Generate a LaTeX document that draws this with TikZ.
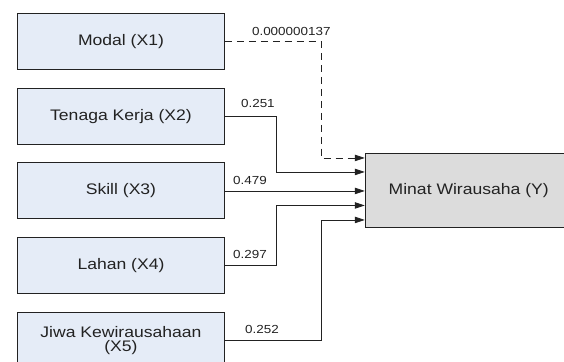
\documentclass[tikz,border=0pt]{standalone}
\usepackage{fontspec}
\setmainfont{Liberation Sans}[FakeStretch=1.15]
\usetikzlibrary{arrows.meta,positioning,calc}

\definecolor{varfill}{RGB}{229,236,247}
\definecolor{depfill}{RGB}{220,220,220}
\definecolor{ink}{RGB}{34,34,34}

\begin{document}
\begin{tikzpicture}[
    var/.style = {draw=ink, fill=varfill, rectangle, line width=0.7pt, minimum height = 1.482 cm, minimum width = 5.477 cm, inner sep=0pt, text=ink, font=\fontsize{11.5}{10.5}\selectfont},
    dep/.style = {draw=ink, fill=depfill, rectangle, line width=0.7pt, minimum height = 1.958 cm, minimum width = 5.477 cm, inner sep=0pt, text=ink, font=\fontsize{11.5}{10.5}\selectfont},
    conn/.style = {draw=ink, line width=0.6pt, -{Triangle[length=7.5pt,width=4.8pt]}},
    coef/.style = {text=ink, inner sep=0pt, font=\fontsize{8.8}{10}\selectfont}
  ]

      \useasboundingbox (0,0) rectangle (14.923,-9.578);

      \coordinate (x1c) at (0.45,-0.344);
      \node[var, anchor = north west] at (x1c) (x1) {Modal (X1)};
      \node[var, below = 0.471 cm of x1] (x2) {Tenaga Kerja (X2)};
      \node[var, below = 0.471 cm of x2] (x3) {Skill (X3)};
      \node[var, below = 0.471 cm of x3] (x4) {Lahan (X4)};
      \node[var, below = 0.471 cm of x4, align = center] (x5) {Jiwa Kewirausahaan\\(X5)};

      \node[dep, right = 3.70 cm of x3] (y) {Minat Wirausaha (Y)};

      \coordinate[above = 0.873 cm of y.west] (in1);
      \coordinate[above = 0.503 cm of y.west] (in2);
      \coordinate[below = 0.384 cm of y.west] (in4);
      \coordinate[below = 0.767 cm of y.west] (in5);

      \coordinate[right = 2.54 cm of x1.east] (k1);
      \coordinate[right = 1.35 cm of x2.east] (k2);
      \coordinate[right = 1.35 cm of x4.east] (k4);
      \coordinate[right = 2.54 cm of x5.east] (k5);

      \draw[conn, dash pattern = on 5.5pt off 3.5pt] (x1.east) -- (k1) |- (in1);
      \draw[conn] (x2.east) -- (k2) |- (in2);
      \draw[conn] (x3.east) -- (y.west);
      \draw[conn] (x4.east) -- (k4) |- (in4);
      \draw[conn] (x5.east) -- (k5) |- (in5);

      \node[coef, above right = 0.16 cm and 0.71 cm of x1.east] (w1) {0.000000137};
      \node[coef, above right = 0.21 cm and 0.42 cm of x2.east] (w2) {0.251};
      \node[coef, above right = 0.16 cm and 0.21 cm of x3.east] (w3) {0.479};
      \node[coef, above right = 0.185 cm and 0.21 cm of x4.east] (w4) {0.297};
      \node[coef, above right = 0.185 cm and 0.53 cm of x5.east] (w5) {0.252};

\end{tikzpicture}
\end{document}
